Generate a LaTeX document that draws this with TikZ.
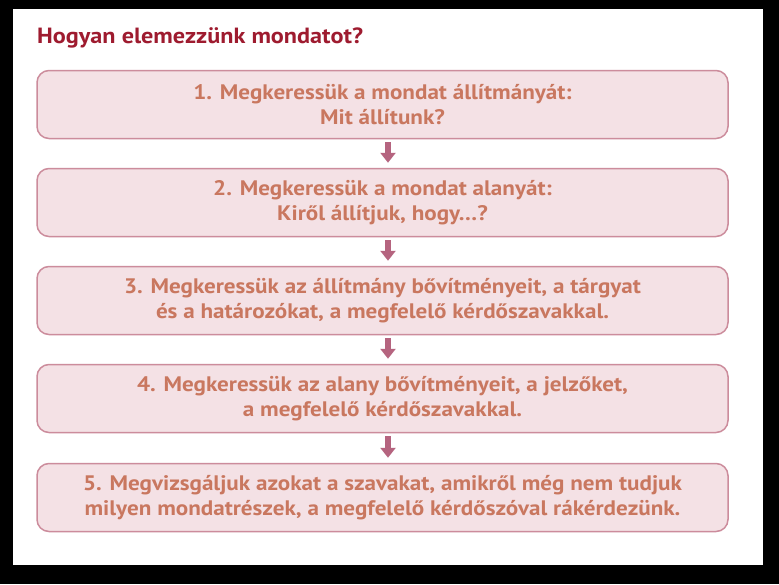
\documentclass[tikz,border=0pt]{standalone}
\usepackage{fontspec}
\setmainfont{PT Sans}[FakeStretch=1.1]
\usetikzlibrary{arrows.meta}
\definecolor{titlered}{HTML}{9E1B2F}
\definecolor{boxfill}{HTML}{F4E1E5}
\definecolor{boxline}{HTML}{CC8C9C}
\definecolor{boxtext}{HTML}{C9775F}
\definecolor{arrowcol}{HTML}{B5647F}
\tikzset{
  stepbox/.style={draw=boxline, line width=1.5pt, fill=boxfill, rounded corners=12pt,
    minimum width=691pt, minimum height=68pt, align=center, inner sep=0pt,
    text=boxtext, font=\fontsize{21}{25}\selectfont\bfseries},
  flowarrow/.style={draw=arrowcol, line width=6pt, -{Triangle[width=15pt,length=10pt]},
    shorten <=3pt, shorten >=5pt}
}
\begin{document}
\begin{tikzpicture}[x=1pt,y=-1pt]
\useasboundingbox (0,0) rectangle (779,584);
\fill[black] (0,0) rectangle (779,584);
\fill[white] (13,9) rectangle (763,565);
\node[anchor=base west, text=titlered, font=\fontsize{22}{24}\selectfont\bfseries, inner sep=0pt] (title) at (37,43) {Hogyan elemezzünk mondatot?};
\node[stepbox] (b1) at (382.5,104.5) {1. Megkeressük a mondat állítmányát:\\Mit állítunk?};
\node[stepbox] (b2) at (382.5,202.5) {2. Megkeressük a mondat alanyát:\\Kiről állítjuk, hogy\dots?};
\node[stepbox] (b3) at (382.5,300.5) {3. Megkeressük az állítmány bővítményeit, a tárgyat\\és a határozókat, a megfelelő kérdőszavakkal.};
\node[stepbox] (b4) at (382.5,398.5) {4. Megkeressük az alany bővítményeit, a jelzőket,\\a megfelelő kérdőszavakkal.};
\node[stepbox] (b5) at (382.5,497.5) {5. Megvizsgáljuk azokat a szavakat, amikről még nem tudjuk\\milyen mondatrészek, a megfelelő kérdőszóval rákérdezünk.};
\draw[flowarrow] ([xshift=5.5pt]b1.south) -- ([xshift=5.5pt]b2.north);
\draw[flowarrow] ([xshift=5.5pt]b2.south) -- ([xshift=5.5pt]b3.north);
\draw[flowarrow] ([xshift=5.5pt]b3.south) -- ([xshift=5.5pt]b4.north);
\draw[flowarrow] ([xshift=5.5pt]b4.south) -- ([xshift=5.5pt]b5.north);
\end{tikzpicture}
\end{document}
